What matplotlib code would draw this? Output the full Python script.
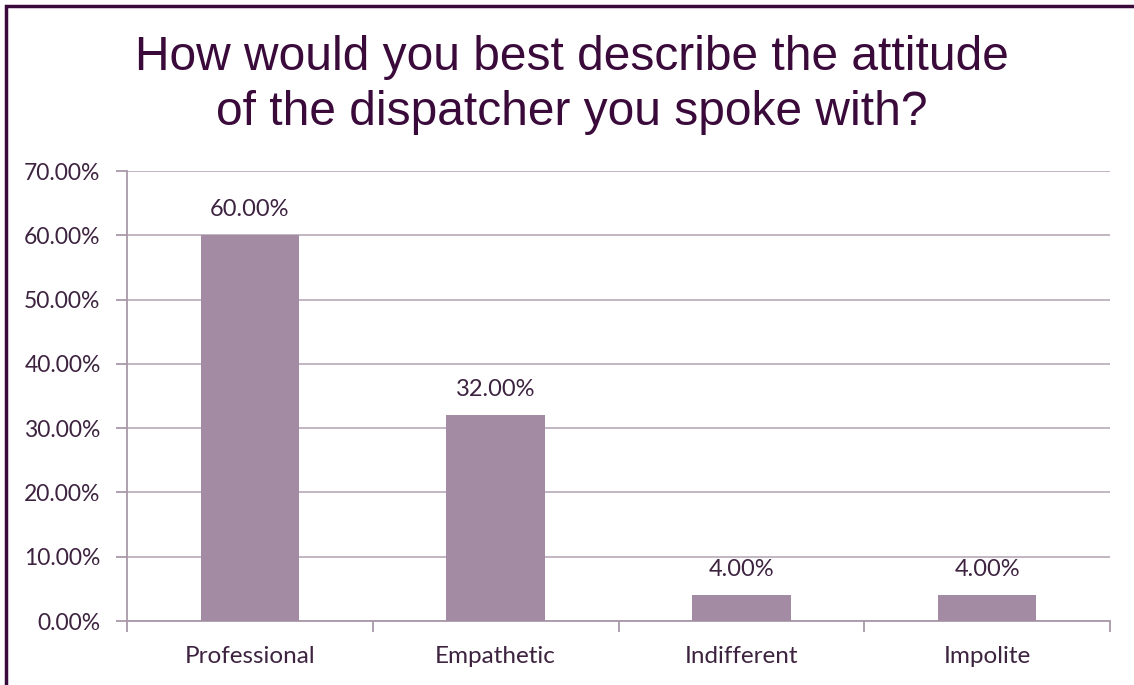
import matplotlib
matplotlib.use("Agg")
import matplotlib.pyplot as plt
from matplotlib.ticker import FuncFormatter, FixedLocator
from matplotlib.patches import Rectangle

categories = ["Professional", "Empathetic", "Indifferent", "Impolite"]
values = [60.0, 32.0, 4.0, 4.0]
yticks = [0, 10, 20, 30, 40, 50, 60, 70]
title_lines = ["How would you best describe the attitude", "of the dispatcher you spoke with?"]

W, H = 1134, 685
fig = plt.figure(figsize=(W / 100, H / 100), dpi=100)
fig.patch.set_facecolor("white")

title_color = "#3a0a3a"
text_color = "#3d2340"
bar_color = "#a38ba3"
grid_color = "#bcb0bc"
axis_color = "#a898a8"
label_font = ["Lato", "DejaVu Sans"]
fs = 16.5

# plot area in pixels
left, right, bottom_px, top_px = 127, 1110, 621, 171
ax = fig.add_axes([left / W, 1 - bottom_px / H, (right - left) / W, (bottom_px - top_px) / H])

x = list(range(len(categories)))
ax.bar(x, values, width=0.4, color=bar_color, zorder=3)
ax.set_xlim(-0.5, len(categories) - 0.5)
ax.set_ylim(0, 70)
ax.set_yticks(yticks)
ax.yaxis.set_major_formatter(FuncFormatter(lambda v, p: f"{v:.2f}%"))
ax.grid(axis="y", color=grid_color, linewidth=1.3, zorder=0)
ax.set_axisbelow(True)

ax.set_xticks(x)
ax.set_xticklabels(categories)
ax.xaxis.set_minor_locator(FixedLocator([i - 0.5 for i in range(len(categories) + 1)]))
ax.tick_params(axis="x", which="major", length=0, pad=18, labelsize=17.5, labelcolor=text_color)
ax.tick_params(axis="x", which="minor", length=8, color=axis_color, width=1.3)
ax.tick_params(axis="y", length=8, color=axis_color, width=1.3, pad=11, labelsize=fs, labelcolor=text_color)
for lab in ax.get_xticklabels() + ax.get_yticklabels():
    lab.set_family(label_font)

for s in ["top", "right"]:
    ax.spines[s].set_visible(False)
for s in ["left", "bottom"]:
    ax.spines[s].set_color(axis_color)
    ax.spines[s].set_linewidth(1.3)

for xi, v in zip(x, values):
    ax.annotate(f"{v:.2f}%", (xi, v), xytext=(0, 11), textcoords="offset points",
                ha="center", va="bottom", fontsize=17, color=text_color, family=label_font)

for i, line in enumerate(title_lines):
    fig.text(572 / W, 1 - (70 + 55 * i) / H, line, ha="center", va="baseline",
             fontsize=34.5, color=title_color, family=["Liberation Sans", "DejaVu Sans"])

# frame border (top and left)
fig.add_artist(Rectangle((6 / W, -0.1), 1.2, 1.1 - 6 / H, transform=fig.transFigure,
                         fill=False, edgecolor="#3a0a3a", linewidth=2.5))

fig.savefig("out.png", dpi=100, facecolor="white")
